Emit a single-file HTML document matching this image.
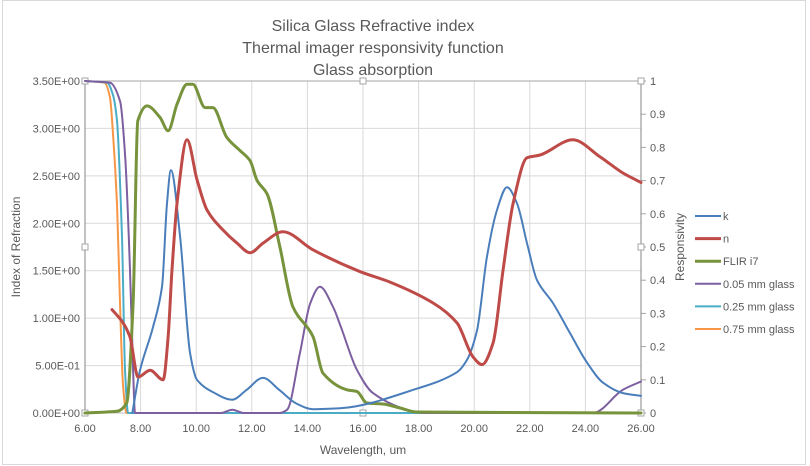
<!DOCTYPE html>
<html><head><meta charset="utf-8"><style>
html,body{margin:0;padding:0;background:#fff;}
svg{display:block;font-family:"Liberation Sans",sans-serif;}
</style></head><body>
<svg id="chart" width="810" height="466" viewBox="0 0 810 466">
<rect x="2.5" y="0.5" width="803" height="464" fill="#fff" stroke="#d9d9d9"/>
<g font-size="16" fill="#595959" text-anchor="middle">
<text x="373" y="31">Silica Glass Refractive index</text>
<text x="373" y="53">Thermal imager responsivity function</text>
<text x="373" y="75">Glass absorption</text>
</g>
<g id="grid"></g>
<g id="axes"></g>
<g id="series"></g>
<text transform="translate(20,247) rotate(-90)" font-size="12" fill="#595959" text-anchor="middle">Index of Refraction</text>
<text transform="translate(684,247) rotate(-90)" font-size="12" fill="#595959" text-anchor="middle">Responsivity</text>
<text x="363" y="454" font-size="12" fill="#595959" text-anchor="middle">Wavelength, um</text>
<g id="legend"></g>
</svg>
<script>
const xTicks=[6,8,10,12,14,16,18,20,22,24,26];
const yTicks=[0,0.5,1,1.5,2,2.5,3,3.5];
const yTickLabels=["0.00E+00","5.00E-01","1.00E+00","1.50E+00","2.00E+00","2.50E+00","3.00E+00","3.50E+00"];
const y2Ticks=[0,0.1,0.2,0.3,0.4,0.5,0.6,0.7,0.8,0.9,1];
const seriesNames=["k","n","FLIR i7","0.05 mm glass","0.25 mm glass","0.75 mm glass"];
const seriesColors=["#4a7ebb","#be4b48","#77933c","#7d5fa0","#4bacc6","#f79646"];
const kX=[7.7,7.98,8.45,8.77,8.95,9.09,9.42,9.78,10.03,10.6,11.29,11.8,12.4,13.0,13.6,14.2,15.17,17.98,19.38,19.74,20.1,20.46,20.82,21.18,21.54,21.9,22.26,22.83,23.45,24.06,24.63,25.35,26];
const kY=[0,0.45,0.91,1.33,2.21,2.56,1.86,0.63,0.35,0.22,0.14,0.24,0.37,0.24,0.1,0.04,0.05,0.26,0.43,0.56,0.87,1.65,2.14,2.38,2.21,1.79,1.4,1.16,0.84,0.53,0.32,0.21,0.18];
const nX=[6.97,7.37,7.62,7.91,8.34,8.81,8.99,9.13,9.31,9.67,10.03,10.39,10.96,11.47,11.94,12.4,13.12,14.2,15.9,16.97,18.52,19.38,19.96,20.28,20.68,21.04,21.4,21.9,22.37,23.55,24.53,25.35,26];
const nY=[1.09,0.95,0.8,0.38,0.45,0.35,0.8,1.51,2.21,2.88,2.46,2.14,1.93,1.79,1.69,1.79,1.91,1.72,1.49,1.38,1.16,0.95,0.59,0.51,0.74,1.51,2.21,2.69,2.72,2.88,2.7,2.53,2.43];
const flirX=[6,7.15,7.5,7.73,7.9,8.23,8.7,8.99,9.31,9.67,9.88,10.32,10.6,11.1,11.58,11.94,12.19,12.55,13.01,13.48,14.2,14.56,15.42,15.78,16.14,16.72,17.33,17.94,26];
const flirY=[0,0.005,0.03,0.33,0.88,0.925,0.89,0.85,0.93,0.99,0.99,0.92,0.92,0.83,0.79,0.76,0.70,0.66,0.5,0.32,0.23,0.12,0.07,0.065,0.03,0.027,0.015,0.003,0];
const g05X=[6,6.9,7.26,7.44,7.62,7.73,7.8,10.9,11.3,11.7,13.0,13.27,13.73,14.1,14.45,14.92,15.2,15.78,16.36,17.58,18.2,24.27,25.35,26];
const g05Y=[1,0.995,0.94,0.78,0.43,0.13,0,0,0.01,0,0,0.01,0.18,0.33,0.38,0.32,0.26,0.13,0.06,0.01,0,0,0.07,0.095];
const g25X=[6,6.8,7.0,7.15,7.33,7.44,7.55,26];
const g25Y=[1,0.995,0.96,0.88,0.53,0.13,0,0];
const g75X=[6,6.7,6.9,7.0,7.15,7.26,7.37,7.5,26];
const g75Y=[1,0.995,0.95,0.85,0.63,0.33,0.08,0,0];

const L=85,R=641,T=81,B=413;
const xS=v=>L+(v-6)/20*(R-L);
const yS=v=>B-v/3.5*(B-T);
const y2S=v=>B-v*(B-T);
const NS="http://www.w3.org/2000/svg";
function mk(tag,attrs,parent){const e=document.createElementNS(NS,tag);for(const k in attrs)e.setAttribute(k,attrs[k]);parent.appendChild(e);return e;}
const grid=document.getElementById('grid'),axes=document.getElementById('axes'),ser=document.getElementById('series'),leg=document.getElementById('legend');
xTicks.forEach((t,i)=>{
 const x=xS(t);
 if(i>0&&i<xTicks.length-1){const gl=mk('line',{x1:x,x2:x,y1:T,y2:B,stroke:'#d9d9d9'},grid);
 
 }
 const tx=mk('text',{x:x,y:432,'font-size':11,fill:'#595959','text-anchor':'middle'},axes);
 tx.textContent=t.toFixed(2);
 
 
});
yTicks.forEach((t,i)=>{
 const y=yS(t);
 if(i>0){const gl=mk('line',{x1:L,x2:R,y1:y,y2:y,stroke:'#d9d9d9'},grid);
 
 }
 const tx=mk('text',{x:80,y:y+4,'font-size':11,fill:'#595959','text-anchor':'end'},axes);
 tx.textContent=yTickLabels[i];
 
 
});
y2Ticks.forEach(t=>{
 const y=y2S(t);
 mk('line',{x1:R,x2:R+5,y1:y,y2:y,stroke:'#a6a6a6'},axes);
 const tx=mk('text',{x:650,y:y+4,'font-size':11,fill:'#595959'},axes);
 tx.textContent=String(t);
 
 
});
mk('line',{x1:L,x2:L,y1:T,y2:B,stroke:'#868686'},axes);
mk('line',{x1:R,x2:R,y1:T,y2:B,stroke:'#868686'},axes);
mk('line',{x1:L,x2:R,y1:B,y2:B,stroke:'#bfbfbf'},axes);
mk('line',{x1:L,x2:R,y1:T,y2:T,stroke:'#a6a6a6'},axes);
[[L,T],[363,T],[R,T],[L,247],[R,247],[L,B],[363,B],[R,B]].forEach(p=>{
 const h=mk('rect',{x:p[0]-3,y:p[1]-3,width:6,height:6,fill:'#fff',stroke:'#a6a6a6'},axes);
 
 
});
function smoothPath(P){
 const n=P.length; if(n<3) return 'M'+P.map(p=>p.join(',')).join('L');
 const d=[],m=[];
 for(let i=0;i<n-1;i++) d.push((P[i+1][1]-P[i][1])/(P[i+1][0]-P[i][0]||1e-6));
 m.push(d[0]);
 for(let i=1;i<n-1;i++) m.push(d[i-1]*d[i]<=0?0:2/(1/d[i-1]+1/d[i]));
 m.push(d[n-2]);
 let s='M'+P[0][0].toFixed(1)+','+P[0][1].toFixed(1);
 for(let i=0;i<n-1;i++){
  const h=(P[i+1][0]-P[i][0])/3;
  s+='C'+(P[i][0]+h).toFixed(1)+','+(P[i][1]+m[i]*h).toFixed(1)+' '+(P[i+1][0]-h).toFixed(1)+','+(P[i+1][1]-m[i+1]*h).toFixed(1)+' '+P[i+1][0].toFixed(1)+','+P[i+1][1].toFixed(1);
 }
 return s;
}
function line(xs,ys,ysc,color,w,name){
 const P=xs.map((x,i)=>[xS(x),ysc(ys[i])]);
 const p=mk('path',{d:smoothPath(P),fill:'none',stroke:color,'stroke-width':w,'stroke-linejoin':'round','stroke-linecap':'round'},ser);
 
 
}
line(g75X,g75Y,y2S,seriesColors[5],2,'series-0.75mm-glass');
line(g25X,g25Y,y2S,seriesColors[4],2,'series-0.25mm-glass');
line(g05X,g05Y,y2S,seriesColors[3],2,'series-0.05mm-glass');
line(flirX,flirY,y2S,seriesColors[2],3,'series-flir-i7');
line(kX,kY,yS,seriesColors[0],2,'series-k');
line(nX,nY,yS,seriesColors[1],3,'series-n');
seriesNames.forEach((n,i)=>{
 const y=216+i*22.6;
 const g=mk('g',{},leg);
 
 
 mk('line',{x1:695,x2:721,y1:y,y2:y,stroke:seriesColors[i],'stroke-width':(i==1||i==2)?3:2},g);
 const t=mk('text',{x:723,y:y+4,'font-size':11,fill:'#595959'},g);
 t.textContent=n;
});
</script>
</body></html>
